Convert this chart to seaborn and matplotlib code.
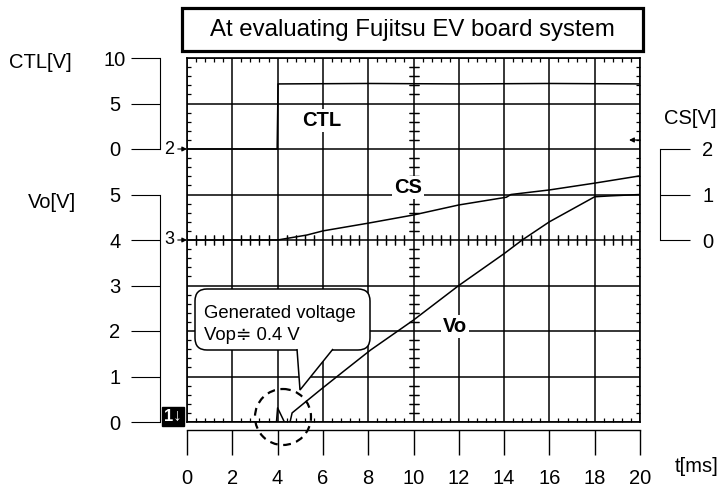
import numpy as np
import pandas as pd
import matplotlib
matplotlib.use("Agg")
import matplotlib.pyplot as plt
import seaborn as sns
from matplotlib.ticker import MultipleLocator
from matplotlib.transforms import Affine2D
from matplotlib.patches import Rectangle, FancyBboxPatch, Polygon, Circle

# Traces (time in ms)
ctl_t = [0.0, 3.98, 4.02, 8.0, 12.0, 16.0, 20.0]
ctl_v = [0.0, 0.0, 7.15, 7.2, 7.15, 7.2, 7.15]

cs_t = [0.0, 4.0, 5.3, 6.0, 8.0, 10.0, 12.0, 14.1, 14.3, 16.0, 18.0, 20.0]
cs_v = [0.0, 0.0, 0.11, 0.20, 0.37, 0.55, 0.77, 0.94, 1.0, 1.10, 1.25, 1.41]

vo_t = [0.0, 3.95, 4.0, 4.3, 4.55, 4.64, 5.87, 6.98, 8.1, 10.0, 12.0, 14.0,
        14.8, 16.0, 17.2, 18.0, 18.7, 20.0]
vo_v = [0.0, 0.0, 0.31, 0.0, 0.0, 0.2, 0.70, 1.14, 1.58, 2.24, 3.0, 3.7,
        4.0, 4.4, 4.73, 4.95, 4.97, 5.0]

time_ticks = [0, 2, 4, 6, 8, 10, 12, 14, 16, 18, 20]
ctl_ticks = [0, 5, 10]
vo_ticks = [0, 1, 2, 3, 4, 5]
cs_ticks = [0, 1, 2]

# screen divisions: Vo 1 V/div from bottom, CS 1 V/div from div 4, CTL 5 V/div from div 6
CTL_ZERO, CTL_SCALE = 6, 5
CS_ZERO, CS_SCALE = 4, 1

W, H = 722, 491

sns.set_style("white")
plt.rcParams["font.family"] = ["Liberation Sans", "DejaVu Sans"]
plt.rcParams["text.color"] = "black"
plt.rcParams["xtick.color"] = "black"
plt.rcParams["ytick.color"] = "black"
plt.rcParams["axes.labelcolor"] = "black"

fig = plt.figure(figsize=(W / 100, H / 100), dpi=100)
# reference-pixel transform (y down) for the decorations
px = Affine2D().scale(1 / 100, -1 / 100).translate(0, H / 100) + fig.dpi_scale_trans

left, right, top, bottom = 187, 640, 58, 422
ax = fig.add_axes([left / W, (H - bottom) / H, (right - left) / W, (bottom - top) / H])

df_ctl = pd.DataFrame({"t": ctl_t, "y": CTL_ZERO + np.array(ctl_v) / CTL_SCALE})
df_cs = pd.DataFrame({"t": cs_t, "y": CS_ZERO + np.array(cs_v) / CS_SCALE})
df_vo = pd.DataFrame({"t": vo_t, "y": vo_v})
for d in (df_ctl, df_cs, df_vo):
    sns.lineplot(data=d, x="t", y="y", ax=ax, estimator=None, sort=False,
                 color="black", lw=1.1, zorder=3)

ax.set_xlim(0, 20)
ax.set_ylim(0, 8)
ax.set_xticks(time_ticks)
ax.set_yticks(range(9))
ax.set_xlabel("")
ax.set_ylabel("")
ax.set_xticklabels([])
ax.set_yticklabels([])
ax.set_axisbelow(True)
ax.grid(True, color="black", lw=1.1)
for s in ax.spines.values():
    s.set_color("black")
    s.set_linewidth(1.2)
ax.tick_params(which="major", length=0)
ax.xaxis.set_minor_locator(MultipleLocator(0.4))
ax.yaxis.set_minor_locator(MultipleLocator(0.2))
ax.tick_params(which="minor", direction="in", length=3.2, width=0.9, color="black",
               top=True, bottom=True, left=True, right=True)

# tick marks along the centre cross
secx = ax.secondary_xaxis(0.5)
secx.set_xticks(time_ticks)
secx.xaxis.set_minor_locator(MultipleLocator(0.4))
secx.tick_params(which="major", length=0, labelbottom=False, labeltop=False)
secx.tick_params(which="minor", direction="inout", length=7, width=0.9, color="black",
                 bottom=True, top=True)
secy = ax.secondary_yaxis(0.5)
secy.set_yticks(range(9))
secy.yaxis.set_minor_locator(MultipleLocator(0.2))
secy.tick_params(which="major", length=0, labelleft=False, labelright=False)
secy.tick_params(which="minor", direction="inout", length=7, width=0.9, color="black",
                 left=True, right=True)
for sec in (secx, secy):
    for s in sec.spines.values():
        s.set_visible(False)

# trace names
lab_kw = dict(fontsize=14.5, fontweight="bold", ha="center", va="center", zorder=4,
              bbox=dict(facecolor="white", edgecolor="none", pad=1.5))
ax.text(5.96, 6.62, "CTL", **lab_kw)
ax.text(9.76, 5.16, "CS", **lab_kw)
ax.text(11.83, 2.09, "Vo", **lab_kw)

# channel ground markers
for ch, lvl in (("2", CTL_ZERO), ("3", CS_ZERO)):
    ax.annotate(ch, xy=(0, lvl), xytext=(-9, 0), textcoords="offset points",
                ha="right", va="center", fontsize=13, annotation_clip=False,
                arrowprops=dict(arrowstyle="-|>", color="black", lw=0.8,
                                mutation_scale=7, shrinkA=0, shrinkB=0,
                                relpos=(1, 0.5)))
fig.text(173, 416, "1\u2193", transform=px, color="white", fontsize=12,
         fontweight="bold", ha="center", va="center",
         bbox=dict(facecolor="black", edgecolor="black", pad=1.5))
ax.annotate("", xy=(629, 140), xycoords=px, xytext=(640, 140), textcoords=px,
            arrowprops=dict(arrowstyle="-|>", color="black", lw=0.9,
                            mutation_scale=7, shrinkA=0, shrinkB=0))

# left scales: CTL and Vo
def left_scale(ticks, pos, lo, hi):
    a = fig.add_axes([160 / W, (H - bottom) / H, 1 / W, (bottom - top) / H])
    a.patch.set_visible(False)
    a.set_ylim(0, 8)
    a.set_xticks([])
    for k in ("top", "right", "bottom"):
        a.spines[k].set_visible(False)
    a.spines["left"].set_bounds(lo, hi)
    a.spines["left"].set_linewidth(0.8)
    a.spines["left"].set_color("black")
    a.set_yticks(pos)
    a.set_yticklabels([str(v) for v in ticks])
    a.tick_params(axis="y", direction="out", length=21, width=0.8, pad=11.5,
                  labelsize=14.5, color="black", left=True, right=False)
    plt.setp(a.get_yticklabels(), ha="center")
    return a

left_scale(ctl_ticks, [CTL_ZERO + v / CTL_SCALE for v in ctl_ticks], CTL_ZERO, 8)
left_scale(vo_ticks, vo_ticks, 0, 5)

# right scale: CS
acs = fig.add_axes([650 / W, (H - bottom) / H, 10 / W, (bottom - top) / H])
acs.patch.set_visible(False)
acs.set_ylim(0, 8)
acs.set_xticks([])
for k in ("top", "left", "bottom"):
    acs.spines[k].set_visible(False)
acs.spines["right"].set_bounds(CS_ZERO, CS_ZERO + 2)
acs.spines["right"].set_linewidth(0.8)
acs.spines["right"].set_color("black")
acs.yaxis.tick_right()
acs.set_yticks([CS_ZERO + v / CS_SCALE for v in cs_ticks])
acs.set_yticklabels([str(v) for v in cs_ticks])
acs.tick_params(axis="y", direction="out", length=21.5, width=0.8, pad=9,
                labelsize=14.5, color="black", right=True, left=False)

# time scale under the screen
at = fig.add_axes([left / W, (H - 430) / H, (right - left) / W, 1 / H])
at.patch.set_visible(False)
at.set_xlim(0, 20)
at.set_yticks([])
for k in ("top", "left", "right"):
    at.spines[k].set_visible(False)
at.spines["bottom"].set_linewidth(1.0)
at.spines["bottom"].set_color("black")
at.set_xticks(time_ticks)
at.set_xticklabels([str(v) for v in time_ticks])
at.tick_params(axis="x", direction="out", length=18, width=1.0, pad=10,
               labelsize=14.5, color="black", bottom=True, top=False)

# axis names
fig.text(40, 63, "CTL[V]", transform=px, fontsize=14.5, ha="center", va="center")
fig.text(52, 203, "Vo[V]", transform=px, fontsize=14.5, ha="center", va="center")
fig.text(690, 118, "CS[V]", transform=px, fontsize=14.5, ha="center", va="center")
fig.text(697, 467, "t[ms]", transform=px, fontsize=14.5, ha="center", va="center")

# title box
fig.add_artist(Rectangle((182, 8), 461, 43, transform=px, facecolor="white",
                         edgecolor="black", lw=2.3))
fig.text(412, 30, "At evaluating Fujitsu EV board system", transform=px,
         fontsize=17.3, ha="center", va="center")

# callout
box = FancyBboxPatch((195, 289), 175, 61, boxstyle="round,pad=0,rounding_size=12",
                     transform=px, facecolor="white", edgecolor="black", lw=1.1,
                     zorder=5, clip_on=False)
ax.add_patch(box)
tip = Polygon([(297, 349), (300, 390), (333, 349)], closed=False, transform=px,
              facecolor="white", edgecolor="black", lw=1.1, zorder=6, clip_on=False)
ax.add_patch(tip)
ax.text(204, 318, "Generated voltage", transform=px, fontsize=13.3, va="baseline",
        zorder=7)
ax.text(204, 340, "Vop\u2251 0.4 V", transform=px, fontsize=13.3, va="baseline",
        zorder=7)

# dashed circle round the generated-voltage blip
fig.add_artist(Circle((283, 417), 28, transform=px, fill=False, edgecolor="black",
                      lw=1.6, ls=(0, (3.5, 2.5))))

fig.savefig("out.png", dpi=100)
